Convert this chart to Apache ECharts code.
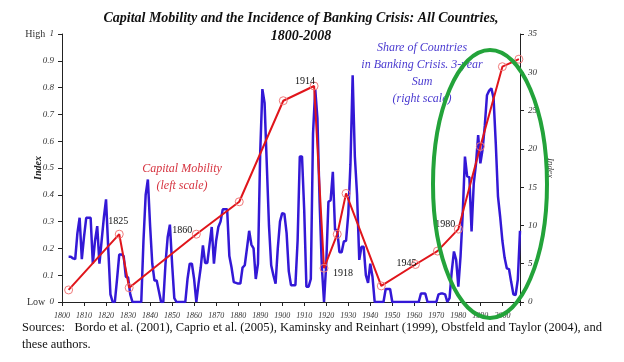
<!DOCTYPE html>
<html><head><meta charset="utf-8">
<script src="https://cdn.jsdelivr.net/npm/echarts@6/dist/echarts.min.js"></script>
<style>html,body{margin:0;padding:0;background:#fff}#c{width:624px;height:362px}</style>
</head><body><div id="c"></div>
<script>
// Share of countries in banking crisis, 3-year sum (right scale), annual from 1803
var crisisStartYear = 1803;
var crisisValues = [
  5.9,5.9,5.7,5.6,9.0,11.0,5.6,
  8.5,11.0,11.0,11.0,5.0,8.0,9.9,5.0,8.0,11.0,
  13.4,7.0,1.0,0,0,3.0,6.2,6.2,6.0,3.3,
  3.2,1.0,0,0,0,0,0,8.0,14.0,16.0,
  10.0,5.0,2.8,2.8,1.4,0,0,5.0,8.5,10.1,
  5.0,0.5,0,0,0,0,0,3.0,5.0,5.0,
  3.0,0,2.4,4.5,7.4,5.1,5.1,7.5,9.8,5.0,
  8.0,9.8,10.5,12.1,12.1,12.1,6.0,4.5,2.6,2.5,
  2.4,2.4,4.5,4.8,7.0,9.3,7.5,7.0,3.0,5.0,
  19.4,27.8,26.0,18.0,10.0,4.8,3.5,2.4,7.0,10.5,
  11.6,11.5,9.0,4.0,2.2,2.2,2.2,8.0,19.0,19.0,
  12.0,2.0,2.0,3.0,22.0,27.8,24.0,13.0,4.6,0,
  5.0,13.1,13.3,17.0,9.4,9.4,6.5,6.5,7.9,8.0,
  11.4,18.0,29.6,19.0,14.0,5.5,7.2,7.2,3.5,2.5,
  5.0,3.3,0,0,0,0,0,1.7,1.7,1.7,
  0,0,0,0,0,0,0,0,0,0,
  0,0,0,1.1,1.1,1.1,0,0,0,0,
  0,1.0,1.1,1.1,1.0,0,0.5,4.0,6.6,5.5,
  2.0,6.0,11.6,19.0,16.4,16.3,9.2,15.5,18.0,21.8,
  18.1,19.9,23.0,27.0,27.6,27.9,26.6,20.7,13.8,11.1,
  8.0,5.8,4.4,4.3,2.6,1.0,0.9,2.9,9.3
];
// Capital mobility index (left scale)
var capYears  = [1803, 1826, 1830.5, 1861, 1880.5, 1900.5, 1914.5, 1919, 1925, 1929, 1945, 1960.5, 1970.5, 1980, 1990, 2000, 2007.5];
var capValues = [0.045, 0.253, 0.053, 0.253, 0.374, 0.751, 0.806, 0.126, 0.253, 0.405, 0.06, 0.14, 0.19, 0.272, 0.58, 0.878, 0.906];
var capLabels = ['', '1825', '', '1860', '', '', '1914', '1918', '', '', '', '1945', '', '1980', '', '', ''];
var leftTicks = { 0: 'Low', 1: 'High' };

var labelOffsets = { '1825': [-1, -13], '1860': [-14, -4], '1914': [-9, -5], '1918': [19, 5], '1945': [-9, -1], '1980': [-13, -5] };

var crisisData = crisisValues.map(function (v, i) { return [crisisStartYear + i, v]; });
var capData = capYears.map(function (y, i) {
  var d = { value: [y, capValues[i]] };
  if (capLabels[i]) {
    d.label = { show: true, formatter: capLabels[i], position: 'inside', offset: labelOffsets[capLabels[i]],
      color: '#111', fontFamily: 'Liberation Serif', fontSize: 10 };
  }
  return d;
});

var serif = 'Liberation Serif';
var chart = echarts.init(document.getElementById('c'), null, { renderer: 'canvas' });
chart.setOption({
  animation: false,
  backgroundColor: '#fff',
  grid: { left: 62, right: 104, top: 34, bottom: 60, containLabel: false, outerBoundsMode: 'none' },
  xAxis: {
    type: 'value', min: 1800, max: 2008, interval: 10,
    axisLine: { lineStyle: { color: '#222', width: 1 } },
    axisTick: { length: 4, lineStyle: { color: '#222' } },
    splitLine: { show: false },
    axisLabel: { margin: 10, fontSize: 8, fontStyle: 'italic', fontFamily: serif, color: '#333',
      formatter: function (v) { return v % 10 === 0 ? String(v) : ''; } }
  },
  yAxis: [{
    type: 'value', min: 0, max: 1, interval: 0.1, position: 'left',
    name: 'Index', nameLocation: 'middle', nameGap: 19, nameRotate: 90, nameMoveOverlap: false,
    nameTextStyle: { fontFamily: serif, fontStyle: 'italic', fontWeight: 'bold', fontSize: 10, color: '#222' },
    axisLine: { show: true, lineStyle: { color: '#222' } },
    axisTick: { show: true, length: 4, lineStyle: { color: '#222' } },
    splitLine: { show: false },
    axisLabel: { margin: 8, fontSize: 9, fontStyle: 'italic', fontFamily: serif, color: '#333',
      formatter: function (v) {
        var r = Math.round(v * 10) / 10;
        if (leftTicks[r] !== undefined) return '{w|' + leftTicks[r] + '} ' + r;
        return r.toFixed(1);
      },
      rich: { w: { fontStyle: 'normal', fontFamily: serif, fontSize: 10, color: '#333', padding: [0, 2, 0, 0] } }
    }
  }, {
    type: 'value', min: 0, max: 35, interval: 5, position: 'right',
    name: 'Index', nameLocation: 'middle', nameGap: 26, nameRotate: -90, nameMoveOverlap: false,
    nameTextStyle: { fontFamily: serif, fontStyle: 'italic', fontSize: 9, color: '#444' },
    axisLine: { show: true, lineStyle: { color: '#222' } },
    axisTick: { show: true, length: 4, lineStyle: { color: '#222' } },
    splitLine: { show: false },
    axisLabel: { margin: 8, fontSize: 9, fontStyle: 'italic', fontFamily: serif, color: '#333' }
  }],
  series: [{
    type: 'line', yAxisIndex: 1, data: crisisData, showSymbol: false, symbol: 'none',
    lineStyle: { color: '#3318d6', width: 2.5 }, z: 2
  }, {
    type: 'line', yAxisIndex: 0, data: capData, symbol: 'circle', symbolSize: 8, showSymbol: true,
    lineStyle: { color: '#e0151b', width: 2 },
    itemStyle: { color: 'rgba(0,0,0,0)', borderColor: '#f07a7a', borderWidth: 1 },
    z: 3
  }],
  graphic: [
    { type: 'text', x: 301, y: 11, style: { text: 'Capital Mobility and the Incidence of Banking Crisis: All Countries,',
        font: 'italic bold 14px "Liberation Serif"', fill: '#111', align: 'center' } },
    { type: 'text', x: 301, y: 29, style: { text: '1800-2008', font: 'italic bold 14px "Liberation Serif"', fill: '#111', align: 'center' } },
    { type: 'text', x: 182, y: 177, style: { text: 'Capital Mobility\n(left scale)', font: 'italic 12px "Liberation Serif"',
        fill: '#d63440', align: 'center', verticalAlign: 'middle', lineHeight: 17 } },
    { type: 'text', x: 422, y: 73, style: { text: 'Share of Countries\nin Banking Crisis. 3-year\nSum\n(right scale)', font: 'italic 12px "Liberation Serif"',
        fill: '#4a3ad0', align: 'center', verticalAlign: 'middle', lineHeight: 17 } },
    { type: 'ellipse', shape: { cx: 490, cy: 184, rx: 57, ry: 134 }, style: { fill: 'none', stroke: '#23a33a', lineWidth: 4 }, z: 100 },
    { type: 'text', x: 22, y: 319, style: { text: 'Sources:   Bordo et al. (2001), Caprio et al. (2005), Kaminsky and Reinhart (1999), Obstfeld and Taylor (2004), and\nthese authors.',
        font: '12.5px "Liberation Serif"', fill: '#111', lineHeight: 17 } }
  ]
});
</script>
</body></html>
